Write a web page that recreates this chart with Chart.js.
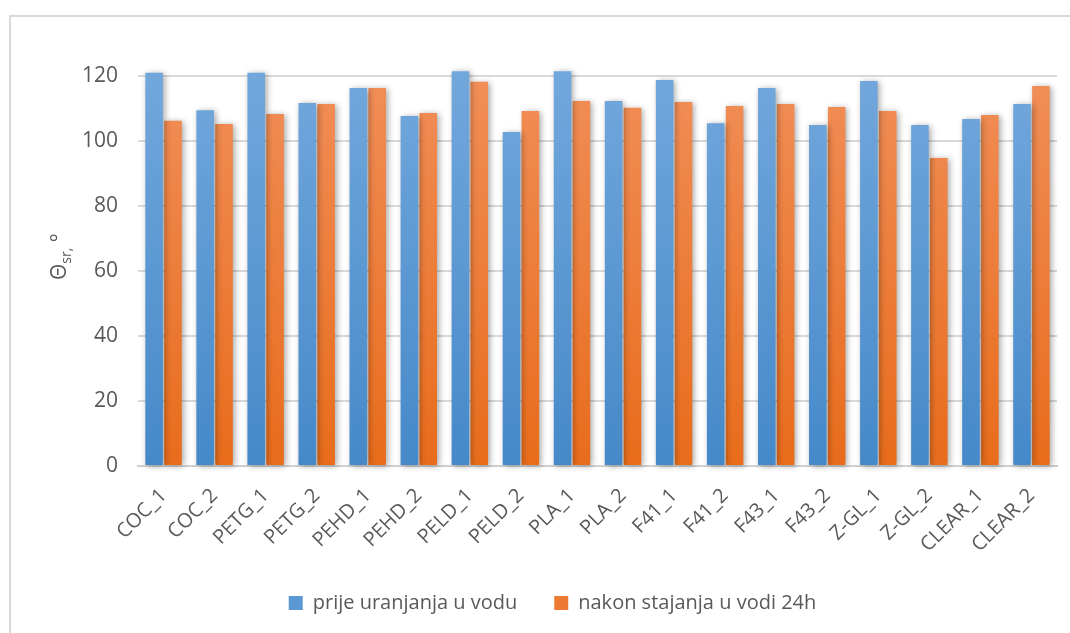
<!DOCTYPE html>
<html>
<head>
<meta charset="utf-8">
<script src="https://cdn.jsdelivr.net/npm/chart.js@4/dist/chart.umd.min.js"></script>
<style>
  body { margin: 0; background: #fff; }
  #frame { position: absolute; left: 9px; top: 15px; width: 1100px; height: 700px; border: 2px solid #d9d9d9; }
  #wrap { position: absolute; left: 0; top: 0; width: 1070px; height: 633px; }
</style>
</head>
<body>
<div id="frame"></div>
<div id="wrap"><canvas id="chart"></canvas></div>
<script>
// sample names
const labels = ['COC_1', 'COC_2', 'PETG_1', 'PETG_2', 'PEHD_1', 'PEHD_2', 'PELD_1', 'PELD_2', 'PLA_1',
    'PLA_2', 'F41_1', 'F41_2', 'F43_1', 'F43_2', 'Z-GL_1', 'Z-GL_2', 'CLEAR_1', 'CLEAR_2'];
// contact angle before immersion
const before = [121.0, 109.5, 121.0, 111.7, 116.3, 107.7, 121.5, 102.8, 121.5,
    112.3, 118.8, 105.5, 116.3, 104.9, 118.5, 104.9, 106.8, 111.4];
// contact angle after 24h in water
const after = [106.2, 105.2, 108.3, 111.4, 116.3, 108.6, 118.2, 109.2, 112.3,
    110.2, 112.0, 110.8, 111.4, 110.5, 109.2, 94.8, 108.0, 116.9];
const yTicks = [0, 20, 40, 60, 80, 100, 120];

const FONT = "'Open Sans', sans-serif";
const TXT = '#595959';

function grad(top, bottom) {
    return function (c) {
        const area = c.chart.chartArea;
        if (!area) return bottom;
        const g = c.chart.ctx.createLinearGradient(0, area.top, 0, area.bottom);
        g.addColorStop(0, top);
        g.addColorStop(1, bottom);
        return g;
    };
}

// soft drop shadow under the bars, like the office chart
const barShadow = {
    id: 'barShadow',
    beforeDatasetsDraw(chart) {
        const ctx = chart.ctx;
        ctx.save();
        ctx.shadowColor = 'rgba(0,0,0,0.35)';
        ctx.shadowBlur = 6;
        ctx.shadowOffsetX = 2;
        ctx.shadowOffsetY = 1;
    },
    afterDatasetsDraw(chart) {
        chart.ctx.restore();
    }
};

// y axis title with subscript
const yTitle = {
    id: 'yTitle',
    afterDraw(chart) {
        const ctx = chart.ctx;
        ctx.save();
        ctx.translate(66, 280);
        ctx.rotate(-Math.PI / 2);
        ctx.fillStyle = TXT;
        ctx.textBaseline = 'alphabetic';
        ctx.textAlign = 'left';
        ctx.font = '21px ' + FONT;
        ctx.fillText('Θ', 0, 0);
        let x = ctx.measureText('Θ').width;
        ctx.font = '14px ' + FONT;
        ctx.fillText('sr,', x, 5);
        x += ctx.measureText('sr,').width;
        ctx.font = '21px ' + FONT;
        ctx.fillText(' °', x, 0);
        ctx.restore();
    }
};

const config = {
    type: 'bar',
    data: {
        labels: labels,
        datasets: [{
            label: 'prije uranjanja u vodu',
            data: before,
            backgroundColor: grad('#72a7dc', '#4589c9'),
            clip: false,
        }, {
            label: 'nakon stajanja u vodi 24h',
            data: after,
            backgroundColor: grad('#f18e58', '#e86c1b'),
            clip: false,
        }]
    },
    options: {
        responsive: false,
        animation: false,
        layout: { padding: { left: 48, right: 13, top: 76, bottom: 10 } },
        datasets: { bar: { categoryPercentage: 0.74, barPercentage: 0.93 } },
        scales: {
            x: {
                grid: { display: false },
                border: { color: '#d0d0d0', width: 2 },
                ticks: {
                    color: TXT, font: { family: FONT, size: 20 },
                    minRotation: 45, maxRotation: 45, padding: 10, autoSkip: false,
                },
                afterFit(scale) { scale.height = 90; },
            },
            y: {
                min: 0, max: 120,
                afterBuildTicks(scale) { scale.ticks = yTicks.map(v => ({ value: v })); },
                grid: { color: '#d9d9d9', lineWidth: 2, drawTicks: false },
                border: { display: false },
                ticks: { color: TXT, font: { family: FONT, size: 21 }, padding: 20 },
                afterFit(scale) { scale.width = 90; },
            }
        },
        plugins: {
            legend: {
                position: 'bottom',
                labels: {
                    color: TXT, font: { family: FONT, size: 20 },
                    boxWidth: 14, boxHeight: 14, padding: 37,
                    generateLabels(chart) {
                        const cols = ['#5b98d4', '#ec7a32'];
                        return chart.data.datasets.map((d, i) => ({
                            text: d.label, fillStyle: cols[i], strokeStyle: cols[i],
                            lineWidth: 0, datasetIndex: i, fontColor: TXT,
                        }));
                    }
                }
            },
            tooltip: { enabled: false }
        }
    },
    plugins: [barShadow, yTitle]
};

const canvas = document.getElementById('chart');
canvas.width = 1070;
canvas.height = 633;
new Chart(canvas, config);
</script>
</body>
</html>
